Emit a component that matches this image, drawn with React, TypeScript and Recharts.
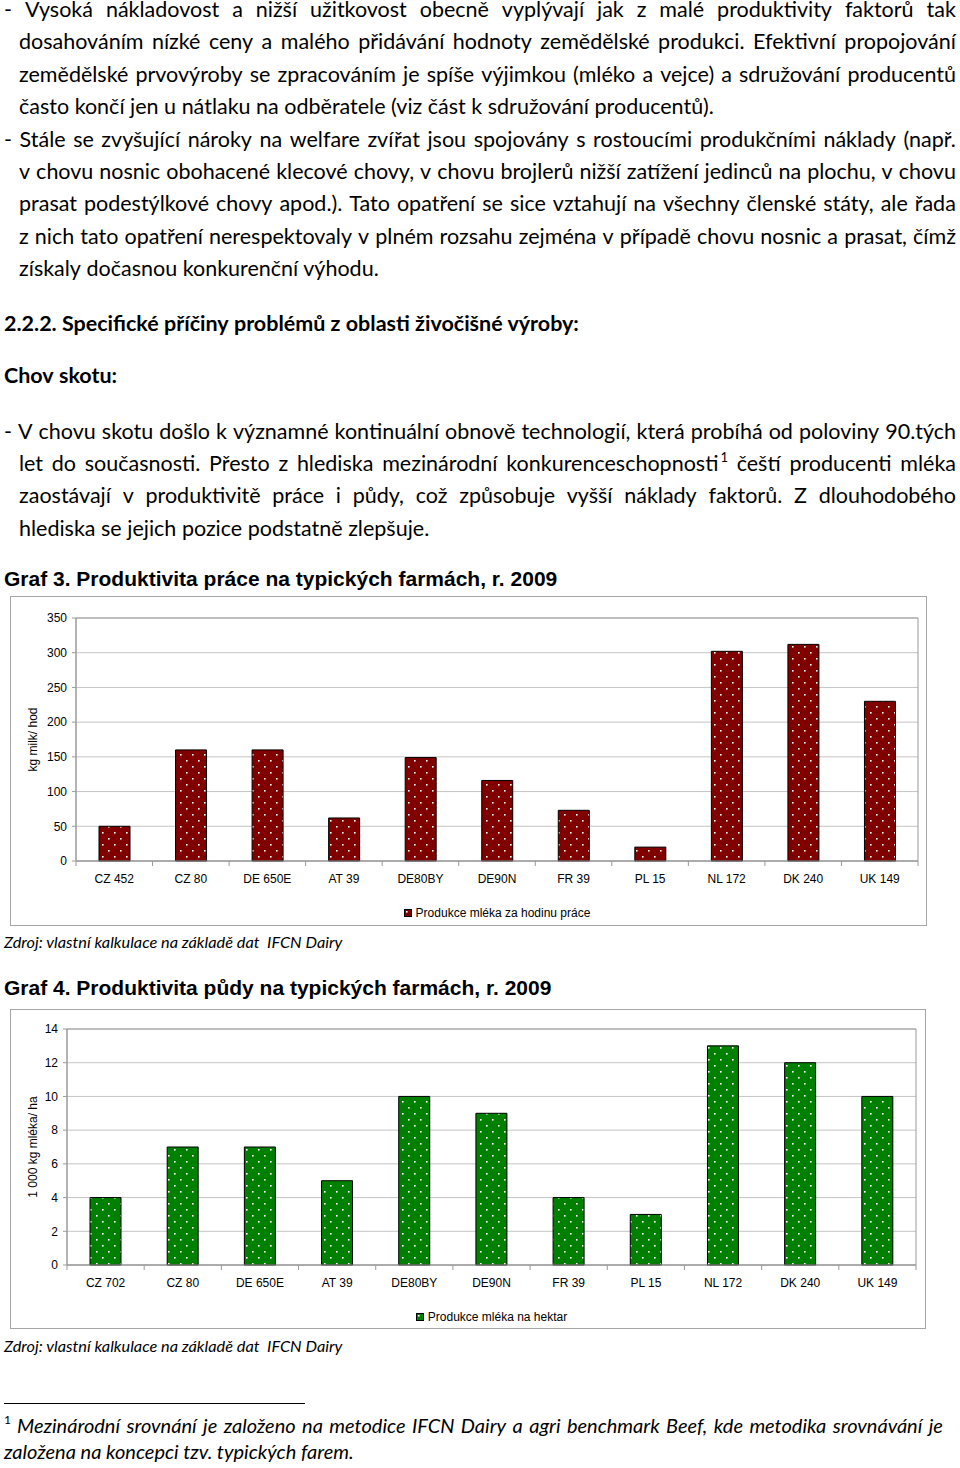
import React from 'react';
import { BarChart, Bar, XAxis, YAxis, CartesianGrid, Legend, ReferenceArea } from 'recharts';

// Graf 3 – kg mléka za hodinu práce
const labourFarms = ['CZ 452', 'CZ 80', 'DE 650E', 'AT 39', 'DE80BY', 'DE90N', 'FR 39', 'PL 15', 'NL 172', 'DK 240', 'UK 149'];
const labourValues = [50, 160, 160, 62, 149, 116, 73, 20, 302, 312, 230];
const labourTicks = [0, 50, 100, 150, 200, 250, 300, 350];

// Graf 4 – 1 000 kg mléka na hektar
const landFarms = ['CZ 702', 'CZ 80', 'DE 650E', 'AT 39', 'DE80BY', 'DE90N', 'FR 39', 'PL 15', 'NL 172', 'DK 240', 'UK 149'];
const landValues = [4, 7, 7, 5, 10, 9, 4, 3, 13, 12, 10];
const landTicks = [0, 2, 4, 6, 8, 10, 12, 14];

const para1 = [
  '- Vysoká nákladovost a nižší užitkovost obecně vyplývají jak z malé produktivity faktorů tak',
  'dosahováním nízké ceny a malého přidávání hodnoty zemědělské produkci. Efektivní propojování',
  'zemědělské prvovýroby se zpracováním je spíše výjimkou (mléko a vejce) a sdružování producentů',
  'často končí jen u nátlaku na odběratele (viz část k sdružování producentů).',
];
const para2 = [
  '- Stále se zvyšující nároky na welfare zvířat jsou spojovány s rostoucími produkčními náklady (např.',
  'v chovu nosnic obohacené klecové chovy, v chovu brojlerů nižší zatížení jedinců na plochu, v chovu',
  'prasat podestýlkové chovy apod.). Tato opatření se sice vztahují na všechny členské státy, ale řada',
  'z nich tato opatření nerespektovaly v plném rozsahu zejména v případě chovu nosnic a prasat, čímž',
  'získaly dočasnou konkurenční výhodu.',
];
const para3 = [
  '- V chovu skotu došlo k významné kontinuální obnově technologií, která probíhá od poloviny 90.tých',
  'let do současnosti. Přesto z hlediska mezinárodní konkurenceschopnosti¹ čeští producenti mléka',
  'zaostávají v produktivitě práce i půdy, což způsobuje vyšší náklady faktorů. Z dlouhodobého',
  'hlediska se jejich pozice podstatně zlepšuje.',
];
const footnote = [
  'Mezinárodní srovnání je založeno na metodice IFCN Dairy a agri benchmark Beef, kde metodika srovnávání je',
  'založena na koncepci tzv. typických farem.',
];

const BODY = 'Lato, "Open Sans", sans-serif';
const ARIAL = '"Liberation Sans", Arial, sans-serif';
const AXIS = '#9a9a9a';
const GRID = '#c4c4c4';
const BODY_SIZE = 21.5;

const LATO_M = { asc: 0.987, desc: 0.213 };
const ARIAL_M = { asc: 0.905, desc: 0.212 };

function topFor(base: number, size: number, lh: number, m: { asc: number; desc: number }) {
  return base - ((lh - (m.asc + m.desc) * size) / 2 + m.asc * size);
}

function renderWord(w: string) {
  if (w.endsWith('¹')) {
    return (
      <>
        {w.slice(0, -1)}
        <span style={{ fontSize: 13, position: 'relative', top: -9, lineHeight: 0, marginLeft: 2 }}>1</span>
      </>
    );
  }
  return w;
}

type LineProps = {
  text: string;
  base: number;
  left: number;
  right?: number;
  justify?: boolean;
  size?: number;
  bold?: boolean;
  italic?: boolean;
};

function TextLine({ text, base, left, right = 956, justify = false, size = BODY_SIZE, bold, italic }: LineProps) {
  const lh = Math.round(size * 0.85);
  return (
    <div
      style={{
        position: 'absolute',
        left,
        top: topFor(base, size, lh, LATO_M),
        width: right - left,
        fontFamily: BODY,
        fontSize: size,
        lineHeight: `${lh}px`,
        fontWeight: bold ? 700 : 400,
        fontStyle: italic ? 'italic' : 'normal',
        color: '#000',
        whiteSpace: 'pre',
        display: 'flex',
        justifyContent: justify ? 'space-between' : 'flex-start',
      }}
    >
      {justify
        ? text.split(' ').map((w, i) => <span key={i}>{renderWord(w)}</span>)
        : text.split(' ').map((w, i) => (
            <span key={i}>
              {i > 0 ? ' ' : ''}
              {renderWord(w)}
            </span>
          ))}
    </div>
  );
}

function Paragraph({ lines, base }: { lines: string[]; base: number }) {
  const step = 32.4;
  return (
    <>
      {lines.map((t, i) => (
        <TextLine
          key={i}
          text={t}
          base={base + i * step}
          left={i === 0 ? 4 : 19}
          justify={i < lines.length - 1}
        />
      ))}
    </>
  );
}

function Title({ text, base }: { text: string; base: number }) {
  const size = 21;
  return (
    <div
      style={{
        position: 'absolute',
        left: 4,
        top: topFor(base, size, 24, ARIAL_M),
        fontFamily: ARIAL,
        fontWeight: 700,
        fontSize: size,
        lineHeight: '24px',
        whiteSpace: 'pre',
        color: '#000',
      }}
    >
      {text}
    </div>
  );
}

type ChartSpec = {
  categories: string[];
  values: number[];
  ticks: number[];
  yLabel: string;
  legend: string;
  color: string;
  patternId: string;
  left: number;
  top: number;
  width: number;
  height: number;
  margin: { top: number; right: number; bottom: number; left: number };
  yAxisWidth: number;
  legendTop: number;
};

function FarmChart(spec: ChartSpec) {
  const data = spec.categories.map((name, i) => ({ name, value: spec.values[i] }));
  const plotLeft = spec.margin.left + spec.yAxisWidth;
  const plotW = spec.width - plotLeft - spec.margin.right;
  const band = plotW / spec.categories.length;
  const max = spec.ticks[spec.ticks.length - 1];
  const n = spec.categories.length;

  const renderTick = (p: any) => {
    const { x, y, payload, index } = p;
    return (
      <g>
        <line x1={x - band / 2} x2={x - band / 2} y1={y} y2={y + 5} stroke={AXIS} />
        {index === n - 1 && <line x1={x + band / 2} x2={x + band / 2} y1={y} y2={y + 5} stroke={AXIS} />}
        <text x={x} y={y + 17.5} textAnchor="middle" dominantBaseline="central" fontSize={12} fontFamily={ARIAL} fill="#000">
          {payload.value}
        </text>
      </g>
    );
  };

  const renderYLabel = (p: any) => {
    const vb = p.viewBox || { x: 0, y: 0, width: 0, height: 0 };
    const cx = vb.x + 23;
    const cy = vb.y + vb.height / 2;
    return (
      <text
        x={cx}
        y={cy}
        transform={`rotate(-90 ${cx} ${cy})`}
        textAnchor="middle"
        dominantBaseline="central"
        fontSize={12}
        fontFamily={ARIAL}
        fill="#000"
      >
        {spec.yLabel}
      </text>
    );
  };

  const renderLegend = () => (
    <div
      style={{
        width: '100%',
        height: 16,
        display: 'flex',
        justifyContent: 'center',
        alignItems: 'center',
        fontFamily: ARIAL,
        fontSize: 12,
        color: '#000',
      }}
    >
      <svg width={8} height={8} style={{ marginRight: 4 }}>
        <rect x={0.5} y={0.5} width={7} height={7} fill={`url(#${spec.patternId})`} stroke="#000" />
      </svg>
      <span>{spec.legend}</span>
    </div>
  );

  return (
    <div
      style={{
        position: 'absolute',
        left: spec.left,
        top: spec.top,
        width: spec.width,
        height: spec.height,
        outline: '1px solid #a6a6a6',
        outlineOffset: -1,
        background: '#fff',
      }}
    >
      <BarChart width={spec.width} height={spec.height} data={data} margin={spec.margin}>
        <defs>
          <pattern id={spec.patternId} width={12} height={12} patternUnits="userSpaceOnUse">
            <rect width={12} height={12} fill={spec.color} />
            <rect x={2} y={2} width={1.6} height={1.6} fill="#ffffff" />
            <rect x={8} y={8} width={1.6} height={1.6} fill="#ffffff" />
          </pattern>
        </defs>
        <CartesianGrid vertical={false} stroke={GRID} />
        <ReferenceArea y1={0} y2={max} fill="none" fillOpacity={0} stroke={AXIS} strokeWidth={1} />
        <XAxis
          dataKey="name"
          interval={0}
          height={30}
          tickSize={0}
          tickMargin={0}
          tickLine={false}
          axisLine={{ stroke: AXIS }}
          tick={renderTick}
        />
        <YAxis
          type="number"
          domain={[0, max]}
          ticks={spec.ticks}
          interval={0}
          width={spec.yAxisWidth}
          tickSize={4}
          tickMargin={5}
          tickLine={{ stroke: AXIS }}
          axisLine={{ stroke: AXIS }}
          tick={{ fill: '#000', fontSize: 12, fontFamily: ARIAL }}
          label={renderYLabel}
        />
        <Legend
          verticalAlign="bottom"
          content={renderLegend}
          wrapperStyle={{ top: spec.legendTop, left: plotLeft, width: plotW, bottom: 'auto', height: 16 }}
        />
        <Bar
          dataKey="value"
          name={spec.legend}
          fill={`url(#${spec.patternId})`}
          stroke="#000"
          strokeWidth={1}
          barSize={31}
          isAnimationActive={false}
        />
      </BarChart>
    </div>
  );
}

export default function App() {
  return (
    <div
      style={{
        position: 'absolute',
        left: 0,
        top: 0,
        width: 960,
        height: 1468,
        background: '#fff',
        overflow: 'hidden',
      }}
    >
      <Paragraph lines={para1} base={17.3} />
      <Paragraph lines={para2} base={147} />

      <TextLine text="2.2.2. Specifické příčiny problémů z oblasti živočišné výroby:" base={331} left={4} bold />
      <TextLine text="Chov skotu:" base={383.5} left={4} bold />

      <Paragraph lines={para3} base={439} />

      <Title text="Graf 3. Produktivita práce na typických farmách, r. 2009" base={586} />
      <FarmChart
        categories={labourFarms}
        values={labourValues}
        ticks={labourTicks}
        yLabel="kg milk/ hod"
        legend="Produkce mléka za hodinu práce"
        color="#800000"
        patternId="dotsRed"
        left={10}
        top={596}
        width={917}
        height={330}
        margin={{ top: 22, right: 9, bottom: 19, left: 0 }}
        yAxisWidth={66}
        legendTop={309}
      />
      <TextLine text="Zdroj: vlastní kalkulace na základě dat  IFCN Dairy" base={948.5} left={4} size={16.3} italic />

      <Title text="Graf 4. Produktivita půdy na typických farmách, r. 2009" base={995} />
      <FarmChart
        categories={landFarms}
        values={landValues}
        ticks={landTicks}
        yLabel="1 000 kg mléka/ ha"
        legend="Produkce mléka na hektar"
        color="#008000"
        patternId="dotsGreen"
        left={10}
        top={1009}
        width={916}
        height={320}
        margin={{ top: 20, right: 10, bottom: 18, left: 0 }}
        yAxisWidth={57}
        legendTop={300}
      />
      <TextLine text="Zdroj: vlastní kalkulace na základě dat  IFCN Dairy" base={1352.5} left={4} size={16.3} italic />

      <div style={{ position: 'absolute', left: 4, top: 1402.5, width: 301, height: 1.5, background: '#000' }} />
      <div style={{ position: 'absolute', left: 4, top: 1413, fontFamily: BODY, fontSize: 12, lineHeight: '14px' }}>1</div>
      <TextLine text={footnote[0]} base={1433} left={17} right={943} size={20} italic justify />
      <TextLine text={footnote[1]} base={1459} left={4} size={20} italic />
    </div>
  );
}
